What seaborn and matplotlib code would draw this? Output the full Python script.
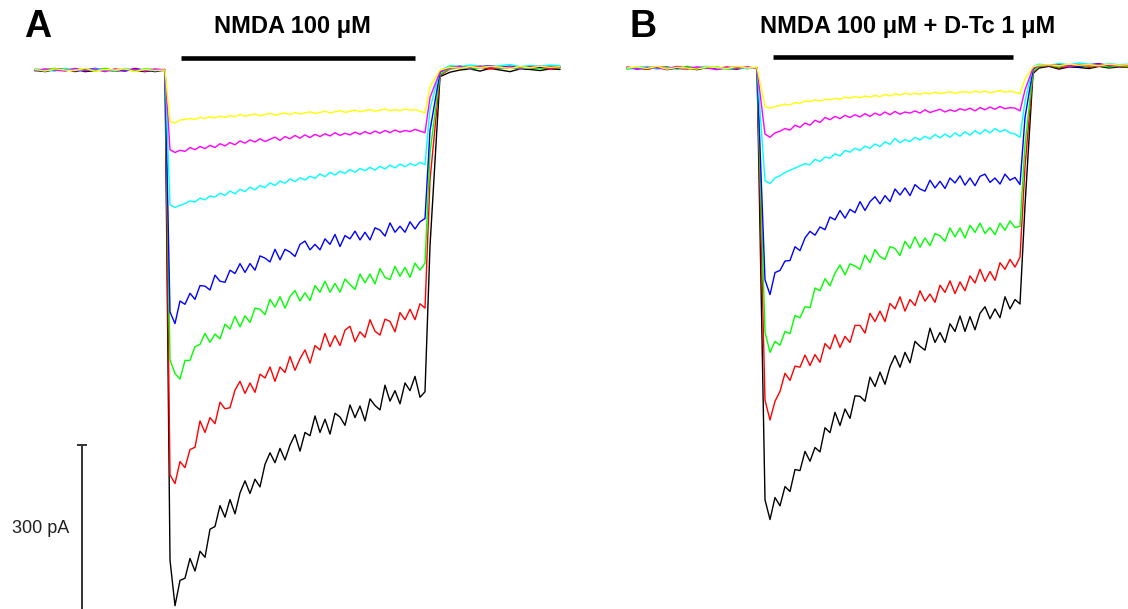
import numpy as np
import pandas as pd
import matplotlib
matplotlib.use("Agg")
import matplotlib.pyplot as plt
import seaborn as sns

# ---------------- DATA (time in s, current in pA) ----------------
trace_order = ["black", "red", "green", "blue", "cyan", "magenta", "yellow"]
trace_colors = {"yellow": "#FFFF00", "magenta": "#FF00FF", "cyan": "#00FFFF",
                "blue": "#0000FF", "green": "#00FF00", "red": "#FF0000",
                "black": "#000000"}

title_A = "NMDA 100 \u03bcM"
title_B = "NMDA 100 \u03bcM + D-Tc 1 \u03bcM"
scale_label = "300 pA"
scale_pA = 300

# application bars (s)
app_A = (7.3, 19.0)
app_B = (7.3, 19.3)

# ---- Panel A ----
A_yellow_pre = [1, -2, 2, 0, -1, 3, -2, 1, 0, 2, -3, 1, -1, 0]
A_magenta_pre = [-1, 2, 0, -2, 3, -1, 1, -3, 2, 0, 1, -2, 2, 0]
A_cyan_pre = [2, 0, -2, 3, 1, -1, 2, 0, -2, 3, 0, 1, -1, 1]
A_blue_pre = [0, -3, 1, 2, -2, 0, 3, -1, 1, -2, 2, 0, -3, 0]
A_green_pre = [-2, 1, 3, -1, 0, 2, -2, 3, -1, 1, -2, 2, 1, -1]
A_red_pre = [1, 0, -1, 2, -3, 1, 0, 2, -2, -1, 3, -1, 0, 1]
A_black_pre = [-1, -2, 1, 0, 2, -3, -1, 0, -2, 1, -1, -3, 0, -1]

A_yellow_main = [-94, -96, -91, -90, -88, -90, -86, -88, -85, -87,
                 -84, -86, -83, -85, -81, -84, -82, -80, -83, -81,
                 -79, -82, -80, -78, -81, -77, -80, -78, -76, -79,
                 -77, -75, -78, -76, -74, -77, -75, -73, -76, -74,
                 -72, -75, -73, -71, -74, -72, -74, -71, -73, -72,
                 -75, -78]
A_magenta_main = [-145, -150, -146, -148, -141, -145, -139, -143, -137, -141,
                  -134, -138, -132, -136, -129, -133, -127, -131, -125, -130,
                  -126, -122, -128, -121, -125, -119, -124, -118, -123, -117,
                  -121, -116, -120, -114, -119, -115, -118, -113, -117, -112,
                  -116, -111, -115, -110, -114, -109, -113, -110, -112, -108,
                  -111, -114]
A_cyan_main = [-245, -250, -246, -243, -238, -240, -233, -236, -229, -231,
               -224, -228, -220, -225, -217, -221, -213, -218, -210, -214,
               -205, -210, -202, -206, -198, -203, -196, -200, -193, -197,
               -189, -194, -186, -191, -184, -188, -181, -186, -179, -183,
               -177, -182, -175, -180, -173, -178, -171, -176, -170, -174,
               -168, -172]
A_blue_main = [-440, -461, -420, -426, -406, -417, -392, -393, -400, -373,
               -384, -386, -364, -370, -352, -368, -352, -364, -338, -342,
               -349, -326, -345, -326, -331, -339, -317, -311, -327, -317,
               -327, -307, -317, -299, -321, -301, -307, -293, -309, -295,
               -309, -287, -291, -302, -278, -295, -284, -295, -276, -289,
               -276, -270]
A_green_main = [-527, -552, -562, -528, -528, -503, -499, -479, -495, -480,
                -489, -462, -471, -448, -467, -447, -459, -433, -435, -445,
                -417, -431, -412, -433, -412, -401, -420, -405, -419, -392,
                -404, -384, -404, -388, -404, -380, -390, -399, -371, -387,
                -371, -389, -361, -377, -381, -357, -375, -359, -377, -351,
                -364, -351]
A_red_main = [-736, -752, -712, -723, -690, -686, -638, -659, -632, -643,
              -604, -616, -614, -582, -566, -588, -569, -586, -553, -560,
              -540, -566, -540, -550, -521, -546, -525, -509, -533, -501,
              -509, -479, -503, -483, -501, -473, -466, -494, -476, -486,
              -454, -475, -482, -453, -457, -476, -441, -454, -435, -454,
              -425, -433]
A_black_main = [-891, -974, -928, -924, -888, -911, -875, -886, -835, -830,
                -792, -813, -781, -807, -769, -747, -770, -744, -758, -717,
                -696, -714, -688, -709, -682, -663, -693, -659, -665, -629,
                -659, -635, -662, -624, -631, -646, -609, -632, -611, -638,
                -598, -610, -618, -573, -602, -583, -607, -569, -583, -557,
                -595, -585]

A_yellow_post = [-30, 0, 5, 3, 6, 4, 7, 5, 3, 6, 4, 7, 5, 6]
A_magenta_post = [-50, -3, 4, 6, 3, 7, 5, 4, 6, 3, 5, 7, 4, 6]
A_cyan_post = [-70, -1, 8, 6, 9, 7, 5, 8, 10, 6, 8, 7, 9, 8]
A_blue_post = [-110, -4, 5, 7, 4, 6, 8, 5, 7, 4, 6, 5, 7, 6]
A_green_post = [-150, -8, 3, 5, 2, 4, 6, 3, 5, 2, 4, 3, 5, 4]
A_red_post = [-200, -10, 2, 4, 3, 5, 2, 4, 3, 5, 3, 4, 2, 4]
A_black_post = [-320, -12, -4, 0, 2, -2, 3, 0, -3, 2, 1, -1, 2, 1]

# ---- Panel B ----
B_yellow_pre = [0, 2, -1, 3, -2, 1, 0, -2, 2, 1, -1, 3, 0, 1]
B_magenta_pre = [2, -1, 1, 0, -2, 3, -1, 2, 0, -3, 1, 0, 2, -1]
B_cyan_pre = [-1, 1, 3, -2, 0, 2, -1, 1, 3, 0, -2, 1, -1, 0]
B_blue_pre = [1, -2, 0, 2, -3, 0, 1, -1, 2, -2, 0, 2, -1, 1]
B_green_pre = [-2, 0, 2, -1, 1, -2, 3, 0, -1, 2, -2, 1, 0, -1]
B_red_pre = [0, 1, -2, 1, 2, -1, -2, 1, 0, -1, 2, -1, 1, 0]
B_black_pre = [-1, 0, -2, 1, -1, 2, 0, -3, 1, 0, -1, -2, 1, 0]

B_yellow_main = [-70, -73, -70, -68, -66, -67, -63, -64, -60, -61,
                 -58, -60, -57, -58, -55, -57, -53, -55, -52, -54,
                 -51, -53, -50, -52, -48, -51, -47, -49, -46, -48,
                 -46, -48, -45, -47, -44, -46, -45, -43, -46, -44,
                 -43, -45, -42, -44, -42, -45, -43, -41, -44, -42,
                 -44, -47]
B_magenta_main = [-120, -126, -118, -115, -110, -113, -104, -108, -100, -104,
                  -95, -99, -90, -94, -88, -92, -86, -90, -85, -89,
                  -83, -88, -82, -86, -80, -85, -79, -84, -80, -82,
                  -78, -82, -76, -81, -78, -75, -80, -76, -79, -74,
                  -77, -73, -78, -72, -76, -71, -75, -70, -74, -72,
                  -73, -78]
B_cyan_main = [-205, -210, -200, -196, -190, -186, -182, -178, -174, -176,
               -166, -170, -162, -164, -156, -160, -150, -153, -146, -150,
               -142, -146, -138, -143, -134, -139, -128, -136, -130, -134,
               -126, -131, -124, -129, -121, -127, -120, -126, -118, -124,
               -116, -122, -114, -120, -112, -118, -110, -116, -112, -118,
               -120, -126]
B_blue_main = [-385, -412, -372, -368, -351, -350, -325, -332, -309, -297,
               -304, -289, -294, -271, -276, -259, -273, -257, -263, -243,
               -259, -243, -234, -247, -232, -243, -220, -231, -218, -232,
               -212, -220, -224, -204, -218, -206, -219, -200, -209, -196,
               -213, -200, -214, -197, -193, -208, -200, -211, -193, -204,
               -199, -212]
B_green_main = [-480, -517, -497, -504, -479, -483, -450, -454, -434, -436,
                -400, -405, -383, -396, -373, -358, -376, -356, -360, -366,
                -340, -354, -330, -343, -348, -325, -328, -341, -315, -328,
                -307, -326, -309, -323, -301, -305, -315, -291, -307, -291,
                -309, -286, -299, -282, -301, -290, -303, -282, -295, -278,
                -290, -288]
B_red_main = [-604, -640, -606, -588, -555, -568, -542, -544, -522, -541,
              -521, -535, -501, -511, -485, -508, -488, -499, -468, -468,
              -482, -446, -461, -442, -461, -428, -438, -416, -442, -421,
              -432, -405, -424, -411, -426, -395, -408, -387, -410, -389,
              -405, -378, -391, -366, -388, -370, -386, -354, -366, -348,
              -362, -344]
B_black_main = [-785, -821, -781, -796, -761, -770, -730, -732, -697, -715,
                -690, -698, -654, -663, -626, -650, -620, -637, -596, -597,
                -606, -562, -579, -553, -575, -543, -523, -544, -517, -536,
                -497, -506, -513, -473, -499, -481, -499, -465, -479, -451,
                -479, -452, -476, -446, -434, -456, -438, -454, -416, -438,
                -421, -429]

B_yellow_post = [-20, 2, 5, 6, 4, 7, 5, 6, 4, 7, 5, 6]
B_magenta_post = [-40, 0, 4, 6, 5, 3, 6, 4, 7, 5, 4, 6]
B_cyan_post = [-60, 2, 7, 5, 8, 6, 9, 7, 5, 8, 6, 7]
B_blue_post = [-90, -2, 6, 4, 7, 5, 3, 6, 8, 4, 6, 5]
B_green_post = [-140, -6, 3, 5, 2, 6, 4, 3, 5, 2, 4, 3]
B_red_post = [-180, -8, 2, 4, 0, 3, 5, 1, 4, 2, 3, 1]
B_black_post = [-250, -10, 0, 3, -2, 2, 1, -1, 3, 0, 2, 1]

# sampling grids (s)
A_pre_start, A_main_start, A_post_times = 0.0, 6.75, [19.75, 20.25]
A_post_start = 20.75
B_pre_start, B_main_start, B_post_times = 0.0, 6.9, [19.9, 20.3]
B_post_start = 20.6
pre_step, main_step, post_step = 0.5, 0.25, 0.5

A_traces = {
    "yellow": (A_yellow_pre, A_yellow_main, A_yellow_post),
    "magenta": (A_magenta_pre, A_magenta_main, A_magenta_post),
    "cyan": (A_cyan_pre, A_cyan_main, A_cyan_post),
    "blue": (A_blue_pre, A_blue_main, A_blue_post),
    "green": (A_green_pre, A_green_main, A_green_post),
    "red": (A_red_pre, A_red_main, A_red_post),
    "black": (A_black_pre, A_black_main, A_black_post),
}
B_traces = {
    "yellow": (B_yellow_pre, B_yellow_main, B_yellow_post),
    "magenta": (B_magenta_pre, B_magenta_main, B_magenta_post),
    "cyan": (B_cyan_pre, B_cyan_main, B_cyan_post),
    "blue": (B_blue_pre, B_blue_main, B_blue_post),
    "green": (B_green_pre, B_green_main, B_green_post),
    "red": (B_red_pre, B_red_main, B_red_post),
    "black": (B_black_pre, B_black_main, B_black_post),
}


def build_df(traces, pre_start, main_start, post_times, post_start):
    rows = []
    for name, (pre, main, post) in traces.items():
        t_pre = pre_start + pre_step * np.arange(len(pre))
        t_main = main_start + main_step * np.arange(len(main))
        n_rise = len(post_times)
        t_post = list(post_times) + list(post_start + post_step * np.arange(len(post) - n_rise))
        t = np.concatenate([t_pre, t_main, t_post])
        v = np.concatenate([pre, main, post])
        for ti, vi in zip(t, v):
            rows.append({"trace": name, "t": ti, "I": vi})
    return pd.DataFrame(rows)


df_A = build_df(A_traces, A_pre_start, A_main_start, A_post_times, A_post_start)
df_B = build_df(B_traces, B_pre_start, B_main_start, B_post_times, B_post_start)

# ---------------- FIGURE ----------------
sns.set_theme(style="white")
plt.rcParams["font.family"] = ["Liberation Sans", "DejaVu Sans"]
plt.rcParams["text.color"] = "black"

W, H = 1128, 609
fig = plt.figure(figsize=(W / 100, H / 100), dpi=100)
fig.patch.set_facecolor("white")

px_per_s = 20.0
px_per_pA = 0.55


def make_axes(left_px, right_px, t0_px, base_px):
    ax = fig.add_axes([left_px / W, 0, (right_px - left_px) / W, 1])
    ax.set_xlim((left_px - t0_px) / px_per_s, (right_px - t0_px) / px_per_s)
    ax.set_ylim((base_px - H) / px_per_pA, base_px / px_per_pA)
    ax.axis("off")
    return ax


axA = make_axes(0, 564, 35, 70)
axB = make_axes(564, 1128, 627, 68)

for ax, df in ((axA, df_A), (axB, df_B)):
    sns.lineplot(data=df, x="t", y="I", hue="trace", hue_order=trace_order,
                 palette=trace_colors, estimator=None, sort=False,
                 legend=False, linewidth=1.0, ax=ax)

# application bars
axA.plot(app_A, [22.7, 22.7], color="black", lw=3.3, solid_capstyle="butt")
axB.plot(app_B, [19.1, 19.1], color="black", lw=3.3, solid_capstyle="butt")

# scale bar
sb_t = 2.35
sb_top = -682
axA.plot([sb_t, sb_t], [sb_top, sb_top - scale_pA], color="#333333", lw=1.4,
         clip_on=False, solid_capstyle="butt")
axA.plot([sb_t - 0.27, sb_t + 0.27], [sb_top, sb_top], color="#333333", lw=1.4,
         solid_capstyle="butt")
axA.text(0.3, -833, scale_label, ha="center", va="center", fontsize=13,
         color="#222222")

# titles and panel letters
fig.text(38 / W, 1 - 27 / H, "A", ha="center", va="center", fontsize=27,
         fontweight="bold", color="black")
fig.text(643 / W, 1 - 27 / H, "B", ha="center", va="center", fontsize=27,
         fontweight="bold", color="black")
fig.text(292 / W, 1 - 26.5 / H, title_A, ha="center", va="center",
         fontsize=17, fontweight="bold", color="black")
fig.text(908 / W, 1 - 26.5 / H, title_B, ha="center", va="center",
         fontsize=17, fontweight="bold", color="black")

fig.savefig("out.png", dpi=100, facecolor="white")
